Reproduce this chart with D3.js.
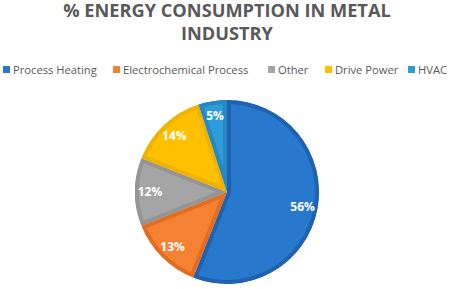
<!DOCTYPE html>
<html><head><meta charset="utf-8">
<script src="https://cdn.jsdelivr.net/npm/d3@7"></script>
<style>body{margin:0;background:#fff}svg{display:block}</style>
</head><body>
<script>
const categories = ["Process Heating","Electrochemical Process","Other","Drive Power","HVAC"];
const values = [56,13,12,14,5];
const labels = ["56%","13%","12%","14%","5%"];
const colors = ["#2878CE","#F58232","#A5A5A5","#FFC000","#2E9CD8"];
const borders = ["#1F63B0","#E36C1E","#959595","#F2B300","#2488C4"];

const W=457,H=289;
const svg=d3.select("body").append("svg").attr("width",W).attr("height",H);
const font="'Open Sans', 'Liberation Sans', sans-serif";

svg.append("text").attr("x",227).attr("y",16.5).attr("text-anchor","middle")
  .attr("font-family",font).attr("font-weight","bold").attr("font-size",18.2)
  .attr("fill","#595959").text("% ENERGY CONSUMPTION IN METAL");
svg.append("text").attr("x",227).attr("y",40).attr("text-anchor","middle")
  .attr("font-family",font).attr("font-weight","bold").attr("font-size",18.2)
  .attr("fill","#595959").text("INDUSTRY");

const legX=[3,113,268,325,408];
const lg=svg.append("g");
categories.forEach((c,i)=>{
  lg.append("rect").attr("x",legX[i]).attr("y",66).attr("width",7).attr("height",7).attr("fill",colors[i]);
  lg.append("text").attr("x",legX[i]+10).attr("y",74).attr("font-family",font)
    .attr("font-size",11.2).attr("fill","#595959").text(c);
});

const cx=227,cy=192,R=92;
const pie=d3.pie().sort(null).value(d=>d)(values);
const arc=d3.arc().innerRadius(0).outerRadius(R);
const g=svg.append("g").attr("transform",`translate(${cx},${cy})`);
const defs=svg.append("defs");
pie.forEach((p,i)=>{
  defs.append("clipPath").attr("id","c"+i).append("path").attr("d",arc(p));
  g.append("path").attr("d",arc(p)).attr("fill",colors[i])
    .attr("stroke",borders[i]).attr("stroke-width",8).attr("clip-path",`url(#c${i})`);
});
const la=d3.arc().innerRadius(77).outerRadius(77);
pie.forEach((p,i)=>{
  const [x,y]=la.centroid(p);
  g.append("text").attr("x",x).attr("y",y).attr("dy","0.35em").attr("text-anchor","middle")
   .attr("font-family",font).attr("font-weight","bold").attr("font-size",12)
   .attr("fill","#fff").text(labels[i]);
});
</script>
</body></html>
